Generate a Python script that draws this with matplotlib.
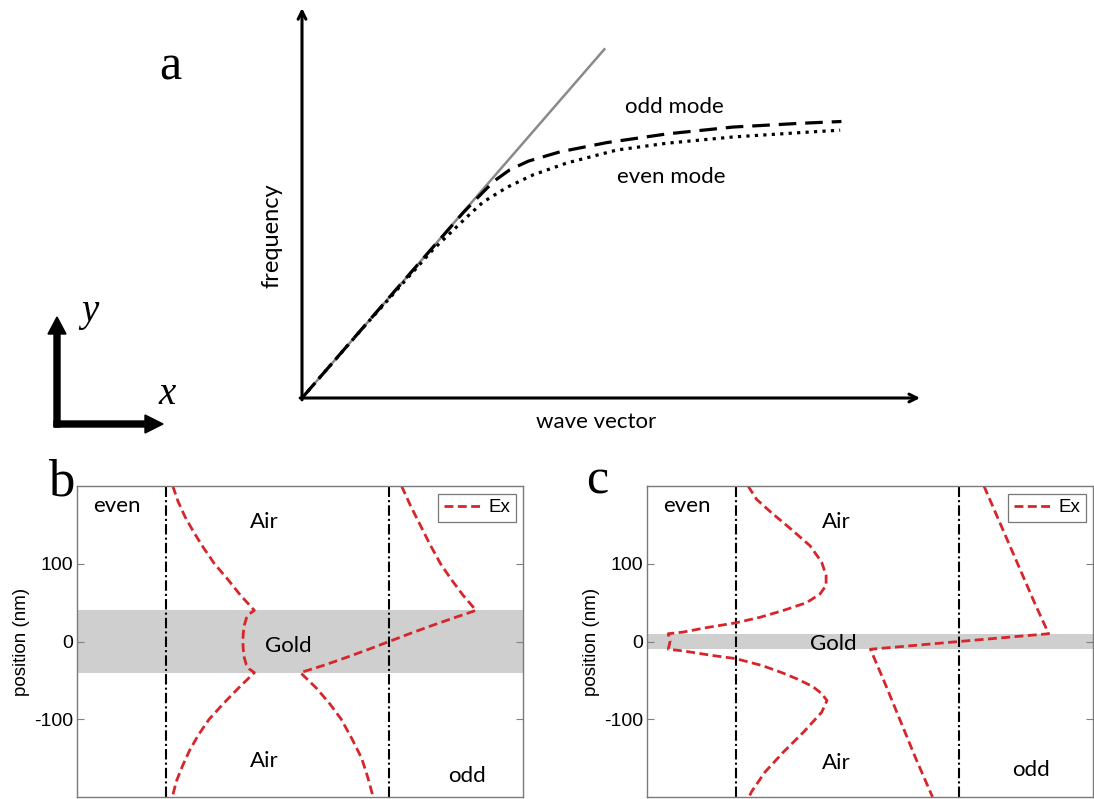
import numpy as np
import matplotlib.pyplot as plt

plt.rcParams['font.family'] = ['Liberation Sans', 'DejaVu Sans']
plt.rcParams['axes.unicode_minus'] = False

# ---- (a) dispersion sketch: wave vector vs frequency (arbitrary units)
light_k = [0, 4.89]
light_w = [0, 5.64]
odd_k = [0, 1.5, 2.6, 2.9, 3.1, 3.35, 3.65, 4.16, 4.92, 5.89, 6.95, 8.03, 8.70]
odd_w = [0, 1.73, 2.99, 3.30, 3.50, 3.68, 3.82, 3.97, 4.12, 4.26, 4.37, 4.43, 4.46]
even_k = [0, 1.0, 2.11, 2.39, 2.66, 2.92, 3.31, 3.73, 4.27, 5.08, 5.89, 6.95, 8.03, 8.68]
even_w = [0, 1.15, 2.39, 2.66, 2.92, 3.16, 3.40, 3.60, 3.79, 4.00, 4.11, 4.21, 4.28, 4.32]

# ---- (b) thick film (80 nm gold), Ex profiles
b_gold = 40
b_even_y = [200, 180, 160, 140, 120, 100, 80, 60, 40, 35, 30, 20, 10, 0,
            -10, -20, -30, -35, -40, -60, -80, -100, -120, -140, -160, -180, -200]
b_even_ex = [0.08, 0.14, 0.22, 0.32, 0.43, 0.55, 0.70, 0.84, 1.00, 0.94, 0.91, 0.885, 0.875, 0.87,
             0.875, 0.885, 0.91, 0.94, 1.00, 0.82, 0.65, 0.49, 0.37, 0.27, 0.19, 0.12, 0.075]
b_odd_y = [200, 175, 150, 125, 100, 80, 60, 40, 30, 20, 10, 0,
           -10, -20, -30, -40, -50, -60, -80, -100, -125, -150, -175, -200]
b_odd_ex = [0.14, 0.24, 0.35, 0.46, 0.58, 0.70, 0.83, 0.98, 0.72, 0.47, 0.23, 0.0,
            -0.23, -0.47, -0.72, -1.0, -0.91, -0.82, -0.67, -0.54, -0.42, -0.31, -0.24, -0.18]

# ---- (c) thin film (20 nm gold), Ex profiles
c_gold = 10
c_even_y = [200, 183, 166, 144, 123, 102, 85, 72, 61, 50, 40, 31, 24, 18, 12, 10, 0,
            -10, -12, -18, -22, -31, -40, -48, -58, -67, -76, -91, -116, -142, -168, -193, -200]
c_even_ex = [0.14, 0.235, 0.40, 0.63, 0.84, 0.97, 1.02, 1.02, 0.95, 0.80, 0.54, 0.27, 0.0, -0.32, -0.60, -0.76, -0.74,
             -0.76, -0.60, -0.26, 0.0, 0.30, 0.52, 0.69, 0.87, 0.97, 1.03, 0.97, 0.77, 0.54, 0.33, 0.18, 0.15]
c_odd_y = [200, 150, 100, 50, 10, 0, -10, -50, -100, -150, -200]
c_odd_ex = [0.28, 0.47, 0.66, 0.85, 1.01, 0.0, -1.0, -0.85, -0.67, -0.49, -0.30]

even_x0 = 0.0
odd_x0 = 2.52
red = '#d7262b'
lab_font = 'Lato'

fig = plt.figure(figsize=(10.94, 7.99), dpi=100)
W, H = 1094.0, 799.0

# overlay in pixel units for panel letters and the xy symbol
ov = fig.add_axes([0, 0, 1, 1])
ov.set_xlim(0, W)
ov.set_ylim(H, 0)
ov.axis('off')
ov.text(170, 79, 'a', fontsize=36, family='Liberation Serif', ha='center', va='baseline')
ov.text(61, 495, 'b', fontsize=38, family='Liberation Serif', ha='center', va='baseline')
ov.text(597, 493, 'c', fontsize=36, family='Liberation Serif', ha='center', va='baseline')
ov.arrow(57, 427, 0, -110, width=6, head_width=18, head_length=17,
         length_includes_head=True, color='k')
ov.arrow(54, 424, 109, 0, width=6, head_width=18, head_length=18,
         length_includes_head=True, color='k')
ov.text(90, 321, 'y', fontsize=28, family='Liberation Serif', style='italic', ha='center', va='baseline')
ov.text(167, 404, 'x', fontsize=28, family='Liberation Serif', style='italic', ha='center', va='baseline')

# panel a
sc = 62.0
ax_a = fig.add_axes([302 / W, (H - 398) / H, 10.05 * sc / W, 6.34 * sc / H])
ax_a.set_xlim(0, 10.05)
ax_a.set_ylim(0, 6.34)
ax_a.axis('off')
ax_a.plot(light_k, light_w, color='#8a8a8a', lw=1.8, solid_capstyle='butt')
ax_a.plot(odd_k, odd_w, color='k', lw=2.3, dashes=(5.5, 2.8))
ax_a.plot(even_k, even_w, color='k', lw=2.3, linestyle=':')
arr = dict(arrowstyle='->', lw=2.2, color='k', shrinkA=0, shrinkB=0, mutation_scale=14)
ax_a.annotate('', xy=(9.97, 0), xytext=(-0.03, 0), arrowprops=arr, annotation_clip=False)
ax_a.annotate('', xy=(0, 6.29), xytext=(0, -0.03), arrowprops=arr, annotation_clip=False)
ax_a.text(6.0, 4.6, 'odd mode', fontsize=16, family=lab_font, ha='center', va='baseline')
ax_a.text(5.95, 3.46, 'even mode', fontsize=16, family=lab_font, ha='center', va='baseline')
ov.text(596, 428, 'wave vector', fontsize=16, family=lab_font, ha='center', va='baseline')
ov.text(272, 236, 'frequency', fontsize=17, family=lab_font, ha='center', va='center', rotation=90)


def field_panel(left, gold, even_y, even_ex, odd_y, odd_ex, labels):
    ax = fig.add_axes([left / W, 2 / H, 446 / W, 311 / H])
    ax.axhspan(-gold, gold, color='#cfcfcf', lw=0, zorder=0)
    ax.axvline(even_x0, color='k', lw=1.5, dashes=(5, 1.5, 1, 1.5), zorder=1)
    ax.axvline(odd_x0, color='k', lw=1.5, dashes=(5, 1.5, 1, 1.5), zorder=1)
    ax.plot(even_x0 + np.array(even_ex), even_y, color=red, lw=2.0, dashes=(3.2, 1.6),
            label='Ex', zorder=2)
    ax.plot(odd_x0 + np.array(odd_ex), odd_y, color=red, lw=2.0, dashes=(3.2, 1.6), zorder=2)
    ax.set_xlim(-1.0, 4.03)
    ax.set_ylim(-200, 200)
    ax.set_xticks([])
    ax.set_yticks([-100, 0, 100])
    ax.tick_params(axis='y', direction='in', length=5, color='#808080', width=0.8,
                   right=True, pad=3, labelsize=14)
    for s in ax.spines.values():
        s.set_color('#7a7a7a')
        s.set_linewidth(1.0)
    ax.set_ylabel('position (nm)', fontsize=13.5, labelpad=3)
    leg = ax.legend(loc='upper right', fontsize=13.5, fancybox=False, edgecolor='#555555',
                    handlelength=2.1, handletextpad=0.25, borderaxespad=0.4, borderpad=0.3)
    leg.get_frame().set_linewidth(0.9)
    for txt, x, y, ha in labels:
        ax.text(x, y, txt, fontsize=16, family=lab_font, ha=ha, va='baseline')
    return ax


field_panel(77, b_gold, b_even_y, b_even_ex, b_odd_y, b_odd_ex,
            [('even', -0.82, 166, 'left'), ('Air', 1.11, 146, 'center'),
             ('Gold', 1.38, -14, 'center'), ('Air', 1.11, -162, 'center'),
             ('odd', 3.40, -181, 'center')])
field_panel(647, c_gold, c_even_y, c_even_ex, c_odd_y, c_odd_ex,
            [('even', -0.82, 166, 'left'), ('Air', 1.13, 146, 'center'),
             ('Gold', 1.10, -11, 'center'), ('Air', 1.13, -164, 'center'),
             ('odd', 3.33, -173, 'center')])

fig.savefig('out.png', dpi=100)
